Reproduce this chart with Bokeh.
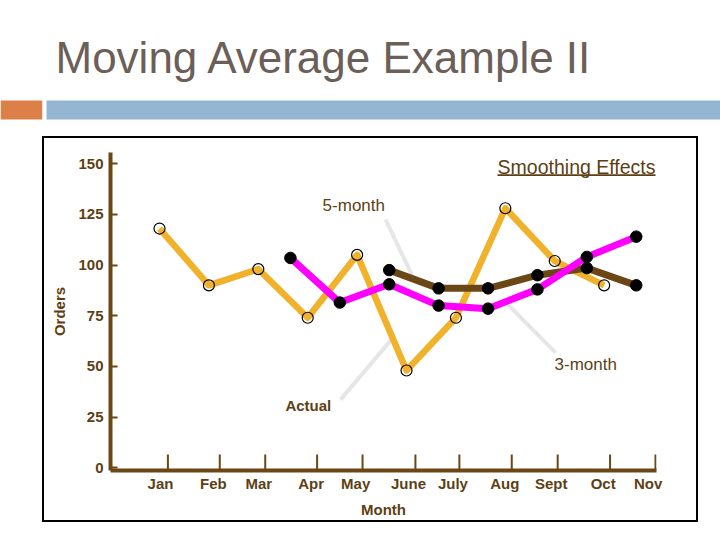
from bokeh.plotting import figure
from bokeh.models import Range1d, FixedTicker, BoxAnnotation, Spacer
from bokeh.layouts import column, row
from bokeh.core.properties import value
from bokeh.embed import file_html
from bokeh.resources import INLINE
import numpy as np

# ---------------- data ----------------
months = ["Jan", "Feb", "Mar", "Apr", "May", "June", "July", "Aug", "Sept", "Oct", "Nov"]
actual = [118, 90, 98, 74, 105, 48, 74, 128, 102, 90]          # Jan..Oct
ma3 = [103.5, 81.5, 90.5, 80, 78.5, 88, 104, 114]                # 3-month, Apr..Nov
ma5 = [97.5, 88.5, 88.5, 95, 98.5, 90]                           # 5-month, June..Nov
y_ticks = [0, 25, 50, 75, 100, 125, 150]
x_tick_pos = [0.17, 1.22, 2.14, 3.19, 4.11, 5.18, 6.07, 7.13, 8.06, 9.12, 10.04]
x_label_pos = [0.02, 1.09, 2.01, 3.07, 3.97, 5.04, 5.94, 6.99, 7.93, 8.98, 9.89]

FONT = "Liberation Sans"
BROWN = "#6b4716"
TXT = "#5e3f14"
ORANGE = "#f0b12b"
MAGENTA = "#ff00ff"
GRAY = "#e6e6e6"

# ---------------- chart geometry (page pixels of the frame) ----------------
X0, X1 = -0.992, 10.06
Y0, Y1 = -1.32, 155.5
BOX_L, BOX_T, BOX_W, BOX_H = 44, 138, 652, 382   # chart canvas on the page
FL, FR, FT, FB = 110, 656, 152, 472              # frame on the page


def dx(px):
    return X0 + (px - FL) / (FR - FL) * (X1 - X0)


def dy(py):
    return Y0 + (FB - py) / (FB - FT) * (Y1 - Y0)


x_act = np.arange(len(actual))
ma_shift = 0.35
x_ma3 = np.arange(3, 3 + len(ma3)) - ma_shift
x_ma5 = np.arange(5, 5 + len(ma5)) - ma_shift


def along(xs, ys, i, f):
    return xs[i] + f * (xs[i + 1] - xs[i]), ys[i] + f * (ys[i + 1] - ys[i])


e5 = along(x_ma5, ma5, 0, 0.5)
e3 = along(x_ma3, ma3, 4, 0.35)
ea = along(x_act, actual, 4, 0.72)
lead_x0 = [dx(385), dx(555), dx(340)]
lead_y0 = [dy(219.3), dy(353.3), dy(400.7)]
lead_x1 = [e5[0], e3[0], ea[0]]
lead_y1 = [e5[1], e3[1], ea[1]]

# ---------------- header (slide title + bars) ----------------
HW, HH = 720, 130
hdr = figure(width=HW, height=HH, output_backend="svg", toolbar_location=None,
             title=None, x_range=Range1d(0, HW), y_range=Range1d(HH, 0),
             x_axis_location=None, y_axis_location=None,
             min_border=0, min_border_left=0, min_border_right=0,
             min_border_top=0, min_border_bottom=0)
hdr.outline_line_color = None
hdr.grid.visible = False
hdr.text(x=[55], y=[57.2], text=["Moving Average Example II"],
         text_font=value(FONT), text_font_size="44px", text_color="#6c5f58",
         text_baseline="middle", text_align="left")
hdr.add_layout(BoxAnnotation(left=0, right=41.7, top=100, bottom=119,
                             fill_color="#dd8047", fill_alpha=1, line_color=None))
hdr.add_layout(BoxAnnotation(left=46, right=HW, top=100, bottom=119,
                             fill_color="#94b6d2", fill_alpha=1, line_color=None))

# ---------------- chart ----------------
p = figure(width=BOX_W, height=BOX_H, output_backend="svg", toolbar_location=None,
           title=None, x_range=Range1d(X0, X1), y_range=Range1d(Y0, Y1),
           min_border_left=FL - BOX_L, min_border_right=BOX_L + BOX_W - FR,
           min_border_top=FT - BOX_T, min_border_bottom=BOX_T + BOX_H - FB)
p.outline_line_color = None
p.xgrid.visible = False
p.ygrid.visible = False
p.styles = {"outline": "2px solid black"}

ya = p.yaxis[0]
ya.ticker = FixedTicker(ticks=y_ticks)
ya.axis_line_color = BROWN
ya.axis_line_width = 4
ya.major_tick_in = 7
ya.major_tick_out = 0
ya.major_tick_line_color = BROWN
ya.major_tick_line_width = 2
ya.minor_tick_line_color = None
ya.major_label_standoff = 7
ya.major_label_text_font = FONT
ya.major_label_text_font_size = "15px"
ya.major_label_text_font_style = "bold"
ya.major_label_text_color = TXT
ya.axis_label = "Orders"
ya.axis_label_standoff = 7
ya.axis_label_text_font = FONT
ya.axis_label_text_font_size = "15px"
ya.axis_label_text_font_style = "bold"
ya.axis_label_text_color = TXT

xa = p.xaxis[0]
xa.ticker = FixedTicker(ticks=x_label_pos)
xa.major_label_overrides = {pos: m for pos, m in zip(x_label_pos, months)}
xa.axis_line_color = BROWN
xa.axis_line_width = 4
xa.major_tick_line_color = None
xa.major_tick_in = 0
xa.major_tick_out = 0
xa.minor_tick_line_color = None
xa.major_label_standoff = 4
xa.major_label_text_font = FONT
xa.major_label_text_font_size = "15px"
xa.major_label_text_font_style = "bold"
xa.major_label_text_color = TXT
xa.axis_label = "Month"
xa.axis_label_standoff = 6
xa.axis_label_text_font = FONT
xa.axis_label_text_font_size = "15px"
xa.axis_label_text_font_style = "bold"
xa.axis_label_text_color = TXT

# tick marks of the month axis (they sit right of the month labels)
p.segment(x0=x_tick_pos, y0=[Y0] * len(x_tick_pos), x1=x_tick_pos,
          y1=[dy(456)] * len(x_tick_pos), line_color=BROWN, line_width=2)

# leader lines
p.segment(x0=lead_x0, y0=lead_y0, x1=lead_x1, y1=lead_y1, line_color=GRAY, line_width=4)

# series
p.line(x_act, actual, line_color=ORANGE, line_width=6.5, line_join="round")
p.scatter(x_act, actual, marker="circle", size=11, fill_color=None,
          line_color="black", line_width=1.2)
p.line(x_ma5, ma5, line_color=BROWN, line_width=7, line_join="round")
p.line(x_ma3, ma3, line_color=MAGENTA, line_width=7, line_join="round")
p.scatter(x_ma5, ma5, marker="circle", size=11.5, fill_color="black", line_color="black")
p.scatter(x_ma3, ma3, marker="circle", size=11.5, fill_color="black", line_color="black")

# annotation texts
p.text(x=[dx(353.3), dx(585.2)], y=[dy(205.8), dy(365.5)], text=["5-month", "3-month"],
       text_font=value(FONT), text_font_size="17px", text_color=TXT,
       text_align="center", text_baseline="middle")
p.text(x=[dx(307.8)], y=[dy(406.2)], text=["Actual"], text_font=value(FONT),
       text_font_size="15px", text_font_style="bold", text_color=TXT,
       text_align="center", text_baseline="middle")
p.text(x=[dx(655)], y=[dy(166.3)], text=["Smoothing Effects"], text_font=value(FONT),
       text_font_size="19.5px", text_color=TXT, text_align="right",
       text_baseline="middle")
p.add_layout(BoxAnnotation(left=dx(655 - 158), right=dx(655), top=dy(174.0), bottom=dy(175.6),
                           fill_color=TXT, fill_alpha=1, line_color=None))

layout = column(hdr, Spacer(height=BOX_T - HH),
                row(Spacer(width=BOX_L), p))

open("out.html", "w").write(file_html(layout, INLINE))
